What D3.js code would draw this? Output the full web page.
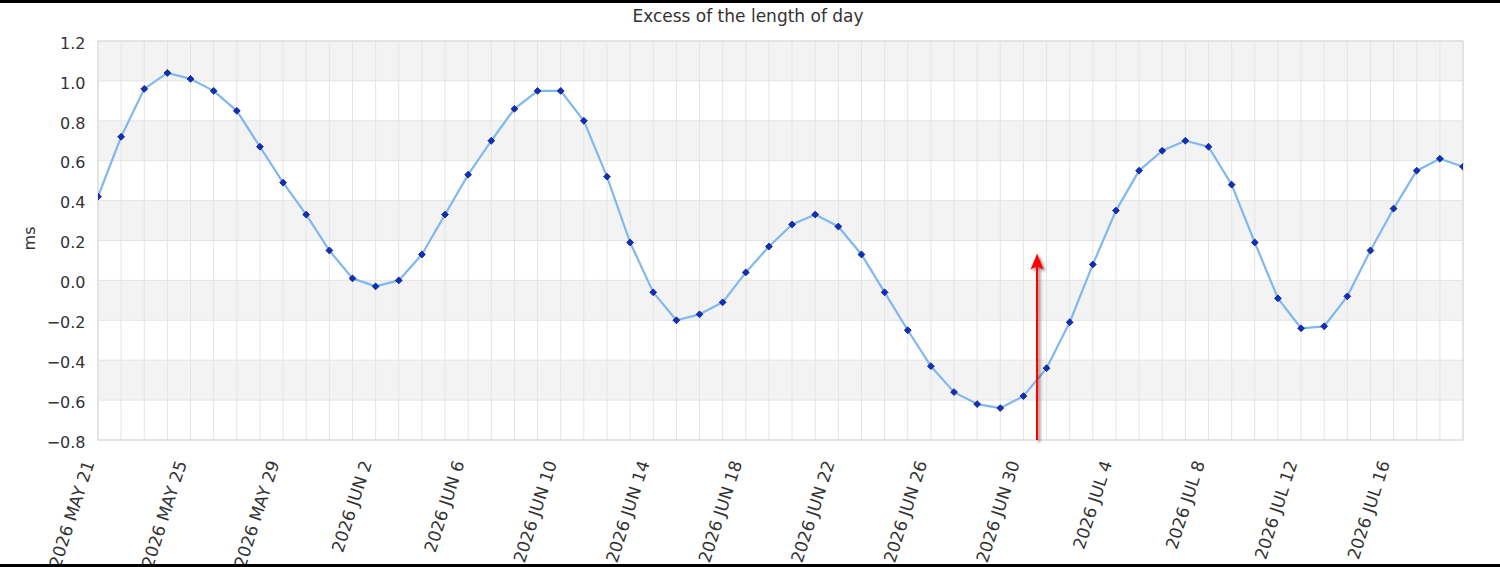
<!DOCTYPE html>
<html><head><meta charset="utf-8">
<script src="https://cdn.jsdelivr.net/npm/d3@7/dist/d3.min.js"></script>
<style>
html,body{margin:0;padding:0;background:#fff;}
svg{display:block;font-family:"DejaVu Sans",Verdana,sans-serif;}
</style></head>
<body>
<svg id="chart" width="1500" height="567"></svg>
<script>
const startDate = "2026-05-21";
const lodValues = [0.42,0.72,0.96,1.04,1.01,0.95,0.85,0.67,0.49,0.33,
  0.15,0.01,-0.03,0.00,0.13,0.33,0.53,0.70,0.86,0.95,
  0.95,0.80,0.52,0.19,-0.06,-0.20,-0.17,-0.11,0.04,0.17,
  0.28,0.33,0.27,0.13,-0.06,-0.25,-0.43,-0.56,-0.62,-0.64,
  -0.58,-0.44,-0.21,0.08,0.35,0.55,0.65,0.70,0.67,0.48,
  0.19,-0.09,-0.24,-0.23,-0.08,0.15,0.36,0.55,0.61,0.57];
const yTicks = [-0.8,-0.6,-0.4,-0.2,0.0,0.2,0.4,0.6,0.8,1.0,1.2];
const xTickLabels = ["2026 MAY 21","2026 MAY 25","2026 MAY 29","2026 JUN 2","2026 JUN 6","2026 JUN 10","2026 JUN 14","2026 JUN 18","2026 JUN 22","2026 JUN 26","2026 JUN 30","2026 JUL 4","2026 JUL 8","2026 JUL 12","2026 JUL 16"];
const markerDate = "2026-06-30T14:10";
const markerTop = 0.135;
const titleText = "Excess of the length of day";
const yLabel = "ms";

const parse = d3.isoParse;
const t0 = d3.timeParse("%Y-%m-%d")(startDate);
const dates = lodValues.map((v,i)=> d3.timeDay.offset(t0,i));
const data = lodValues.map((v,i)=>({date:dates[i], value:v}));

const svg = d3.select("#chart");
const W=1500,H=567;
const m = {left:98, right:37, top:41, bottom:127};
const pw = W-m.left-m.right, ph = H-m.top-m.bottom;

const x = d3.scaleTime().domain([dates[0], dates[dates.length-1]]).range([m.left, m.left+pw]);
const y = d3.scaleLinear().domain([-0.8,1.2]).range([m.top+ph, m.top]);

svg.append("rect").attr("width",W).attr("height",H).attr("fill","#fff");

// bands
const g = svg.append("g");
for (let i=0;i<yTicks.length-1;i++){
  const lo=yTicks[i], hi=yTicks[i+1];
  if (i%2===1) {
    g.append("rect").attr("x",m.left).attr("width",pw)
     .attr("y",y(hi)).attr("height",y(lo)-y(hi)).attr("fill","#f3f3f3");
  }
}
// vertical grid lines each day
g.selectAll("line.vg").data(dates).enter().append("line")
  .attr("x1",d=>x(d)).attr("x2",d=>x(d)).attr("y1",m.top).attr("y2",m.top+ph)
  .attr("stroke","#e4e4e4").attr("stroke-width",1);
// horizontal grid lines
g.selectAll("line.hg").data(yTicks).enter().append("line")
  .attr("x1",m.left).attr("x2",m.left+pw).attr("y1",d=>y(d)).attr("y2",d=>y(d))
  .attr("stroke","#e4e4e4").attr("stroke-width",1);
// plot border
g.append("rect").attr("x",m.left).attr("y",m.top).attr("width",pw).attr("height",ph)
  .attr("fill","none").attr("stroke","#dcdcdc").attr("stroke-width",1.2);

// y axis labels
const yAxis = d3.axisLeft(y).tickValues(yTicks).tickFormat(d3.format(".1f")).tickSize(0).tickPadding(12.5);
const ya = svg.append("g").attr("transform",`translate(${m.left},0)`).call(yAxis);
ya.select(".domain").remove();
ya.selectAll("text").attr("font-size",16).attr("fill","#333").attr("font-family","DejaVu Sans, Verdana, sans-serif").attr("dy","0.45em");

// x axis labels
const tickDates = xTickLabels.map((s,i)=> d3.timeDay.offset(t0, i*4));
const xAxis = d3.axisBottom(x).tickValues(tickDates).tickFormat((d,i)=>xTickLabels[i]).tickSize(0);
const xa = svg.append("g").attr("transform",`translate(0,${m.top+ph})`).call(xAxis);
xa.select(".domain").remove();
xa.selectAll("text").attr("font-size",17).attr("fill","#333")
  .attr("font-family","DejaVu Sans, Verdana, sans-serif")
  .attr("text-anchor","end").attr("dy","0")
  .attr("transform","translate(-4,23) rotate(-72)")
  .attr("x",0).attr("y",0);

// clip
svg.append("clipPath").attr("id","clip").append("rect")
  .attr("x",m.left).attr("y",m.top).attr("width",pw).attr("height",ph);
const pg = svg.append("g").attr("clip-path","url(#clip)");

const line = d3.line().x(d=>x(d.date)).y(d=>y(d.value));
pg.append("path").datum(data).attr("d",line).attr("fill","none")
  .attr("stroke","#7fb8ef").attr("stroke-width",2.2).attr("stroke-linejoin","round");

const sym = d3.symbol().type(d3.symbolDiamond2).size(30);
pg.selectAll("path.pt").data(data).enter().append("path")
  .attr("class","pt").attr("d",sym)
  .attr("transform",d=>`translate(${x(d.date)},${y(d.value)})`)
  .attr("fill","#0a2fd0").attr("stroke","#1a1a40").attr("stroke-width",0.8);

// red arrow marker
const defs = svg.append("defs");
const f = defs.append("filter").attr("id","shadow").attr("x","-50%").attr("y","-50%").attr("width","200%").attr("height","200%");
f.append("feGaussianBlur").attr("in","SourceAlpha").attr("stdDeviation",1.5).attr("result","b");
f.append("feOffset").attr("in","b").attr("dx",2).attr("dy",2).attr("result","o");
f.append("feComponentTransfer").attr("in","o").attr("result","o2").append("feFuncA").attr("type","linear").attr("slope",0.5);
const fm = f.append("feMerge"); fm.append("feMergeNode").attr("in","o2"); fm.append("feMergeNode").attr("in","SourceGraphic");

const ax = x(parse(markerDate));
const ay = y(markerTop);
const ag = svg.append("g").attr("filter","url(#shadow)");
ag.append("line").attr("x1",ax).attr("x2",ax).attr("y1",m.top+ph).attr("y2",ay+12)
  .attr("stroke","#ff0000").attr("stroke-width",2.2);
ag.append("path").attr("d",`M${ax},${ay} L${ax+6.5},${ay+16} L${ax},${ay+13} L${ax-6.5},${ay+16} Z`)
  .attr("fill","#ff0000");

// title
svg.append("text").attr("x",748).attr("y",22).attr("text-anchor","middle")
  .attr("font-size",17).attr("fill","#333").text(titleText);
// y label
svg.append("text").attr("transform","translate(35,238.5) rotate(-90)").attr("text-anchor","middle")
  .attr("font-size",16).attr("fill","#333").text(yLabel);

// black frame bars
svg.append("rect").attr("x",0).attr("y",0).attr("width",W).attr("height",3).attr("fill","#000");
svg.append("rect").attr("x",0).attr("y",564).attr("width",W).attr("height",3).attr("fill","#000");
</script>
</body></html>
